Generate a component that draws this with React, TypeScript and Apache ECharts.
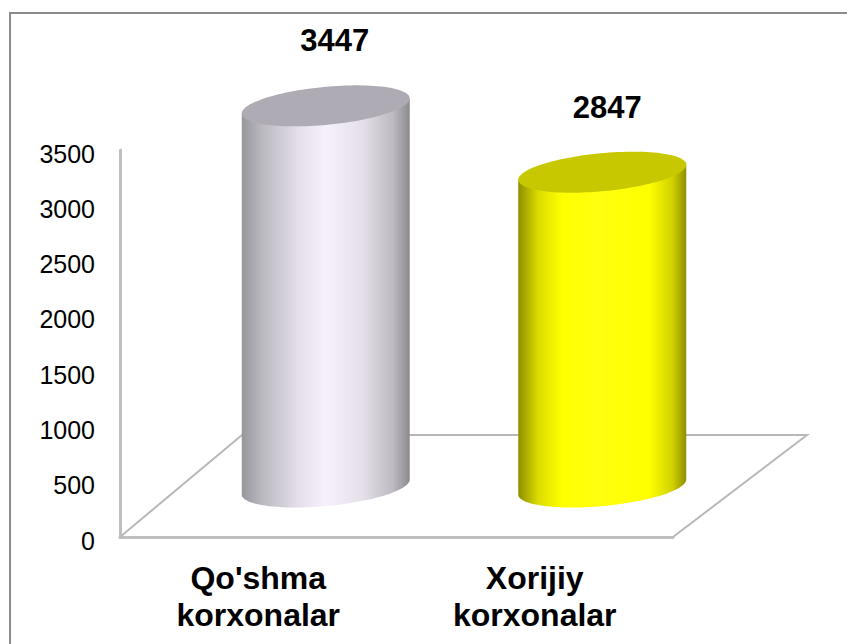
import React, { useEffect, useRef } from "react";
import * as echarts from "echarts";

const categories = ["Qo'shma\nkorxonalar", "Xorijiy\nkorxonalar"];
const values = [3447, 2847];
const yTicks = { min: 0, max: 3500, interval: 500 };

const bodyStops = [
  [
    [0, "#98969c"],
    [0.12, "#bab8c0"],
    [0.34, "#e4dfea"],
    [0.5, "#f6f1fc"],
    [0.72, "#e4dfe9"],
    [0.9, "#bdbac1"],
    [1, "#8c8a8f"],
  ],
  [
    [0, "#8e8e00"],
    [0.12, "#dcdc00"],
    [0.26, "#ffff00"],
    [0.46, "#ffff10"],
    [0.78, "#ffff00"],
    [0.92, "#d0d000"],
    [1, "#8e8e00"],
  ],
];
const topColors = ["#aeabb4", "#c8c800"];
const FONT = "'Liberation Sans', Arial, sans-serif";

// 3D projection of the chart floor and cylinders
const DEPTH_X = 67.5;
const DEPTH_Y = 50;
const A = 84.35;
const B = 19;
const TILT = (5.4 * Math.PI) / 180;
const T0 = Math.atan((B * Math.tan(TILT)) / A);
const LABEL_DY = -65;
const LABEL_DX = [9, 5];

function ellipsePt(cx: number, cy: number, t: number): number[] {
  const ca = A * Math.cos(t);
  const sb = B * Math.sin(t);
  return [
    cx + ca * Math.cos(TILT) + sb * Math.sin(TILT),
    cy - ca * Math.sin(TILT) + sb * Math.cos(TILT),
  ];
}

function arcPts(cx: number, cy: number, from: number, to: number, n: number) {
  const pts: number[][] = [];
  for (let i = 0; i <= n; i++) {
    pts.push(ellipsePt(cx, cy, from + ((to - from) * i) / n));
  }
  return pts;
}

function renderCylinder(params: any, api: any) {
  const i = api.value(0);
  const v = api.value(1);
  const base = api.coord([i, 0]);
  const top = api.coord([i, v]);
  const cx = base[0] + DEPTH_X;
  const yb = base[1] - DEPTH_Y;
  const yt = top[1] - DEPTH_Y;
  const bottomArc = arcPts(cx, yb, T0, T0 + Math.PI, 60);
  const first = ellipsePt(cx, yt, T0);
  const last = ellipsePt(cx, yt, T0 + Math.PI);
  const body = [first, ...bottomArc, last];
  const stops = bodyStops[i].map(([offset, color]) => ({ offset, color }));
  return {
    type: "group",
    children: [
      {
        type: "polygon",
        shape: { points: body },
        style: { fill: new echarts.graphic.LinearGradient(0, 0, 1, 0, stops as any) },
      },
      {
        type: "polygon",
        shape: { points: arcPts(cx, yt, 0, Math.PI * 2, 120) },
        style: { fill: topColors[i] },
      },
      {
        type: "text",
        x: cx + LABEL_DX[i],
        y: yt + LABEL_DY,
        style: {
          text: String(v),
          fill: "#000",
          font: `bold 31px ${FONT}`,
          textAlign: "center",
          textVerticalAlign: "middle",
        },
      },
    ],
  };
}

function renderFloor(params: any, api: any) {
  const band = api.size([1, 0])[0];
  const p0 = api.coord([0, 0]);
  const left = p0[0] - band / 2;
  const right = left + band * categories.length;
  const y = p0[1];
  return {
    type: "polyline",
    shape: {
      points: [
        [left, y],
        [left + 122, y - 102],
        [right + 134, y - 102],
        [right, y],
      ],
    },
    style: { fill: "none", stroke: "#b8b8b8", lineWidth: 2 },
  };
}

export default function App() {
  const ref = useRef<HTMLDivElement>(null);
  useEffect(() => {
    document.body.style.margin = "0";
    const chart = echarts.init(ref.current!, undefined, { renderer: "svg" });
    chart.setOption({
      animation: false,
      backgroundColor: "#fff",
      grid: { left: 120, top: 150, width: 553, height: 387 },
      graphic: [
        {
          type: "polyline",
          shape: { points: [[10, 644], [10, 13], [847, 13]] },
          style: { fill: "none", stroke: "#8c8c8c", lineWidth: 2 },
          silent: true,
        },
      ],
      xAxis: {
        type: "category",
        data: categories,
        axisTick: { show: false },
        axisLine: { show: true, lineStyle: { color: "#bfbfbf", width: 3 } },
        axisLabel: {
          color: "#000",
          fontFamily: "Liberation Sans",
          fontWeight: "bold",
          fontSize: 32,
          lineHeight: 37,
          margin: 22,
          interval: 0,
        },
      },
      yAxis: {
        type: "value",
        min: yTicks.min,
        max: yTicks.max,
        interval: yTicks.interval,
        splitLine: { show: false },
        axisTick: { show: false },
        axisLine: { show: true, lineStyle: { color: "#bfbfbf", width: 3 } },
        axisLabel: {
          color: "#000",
          fontFamily: "Liberation Sans",
          fontSize: 25,
          margin: 25,
          verticalAlign: "top",
          lineHeight: 7,
          formatter: (v: number) => String(v),
        },
      },
      series: [
        {
          type: "custom",
          silent: true,
          clip: false,
          z: 1,
          data: [[0, 0]],
          encode: { x: 0, y: 1 },
          renderItem: renderFloor,
        },
        {
          type: "custom",
          silent: true,
          clip: false,
          z: 2,
          data: values.map((v, i) => [i, v]),
          encode: { x: 0, y: 1 },
          renderItem: renderCylinder,
        },
      ],
    });
    return () => chart.dispose();
  }, []);
  return <div ref={ref} style={{ width: 847, height: 644 }} />;
}
